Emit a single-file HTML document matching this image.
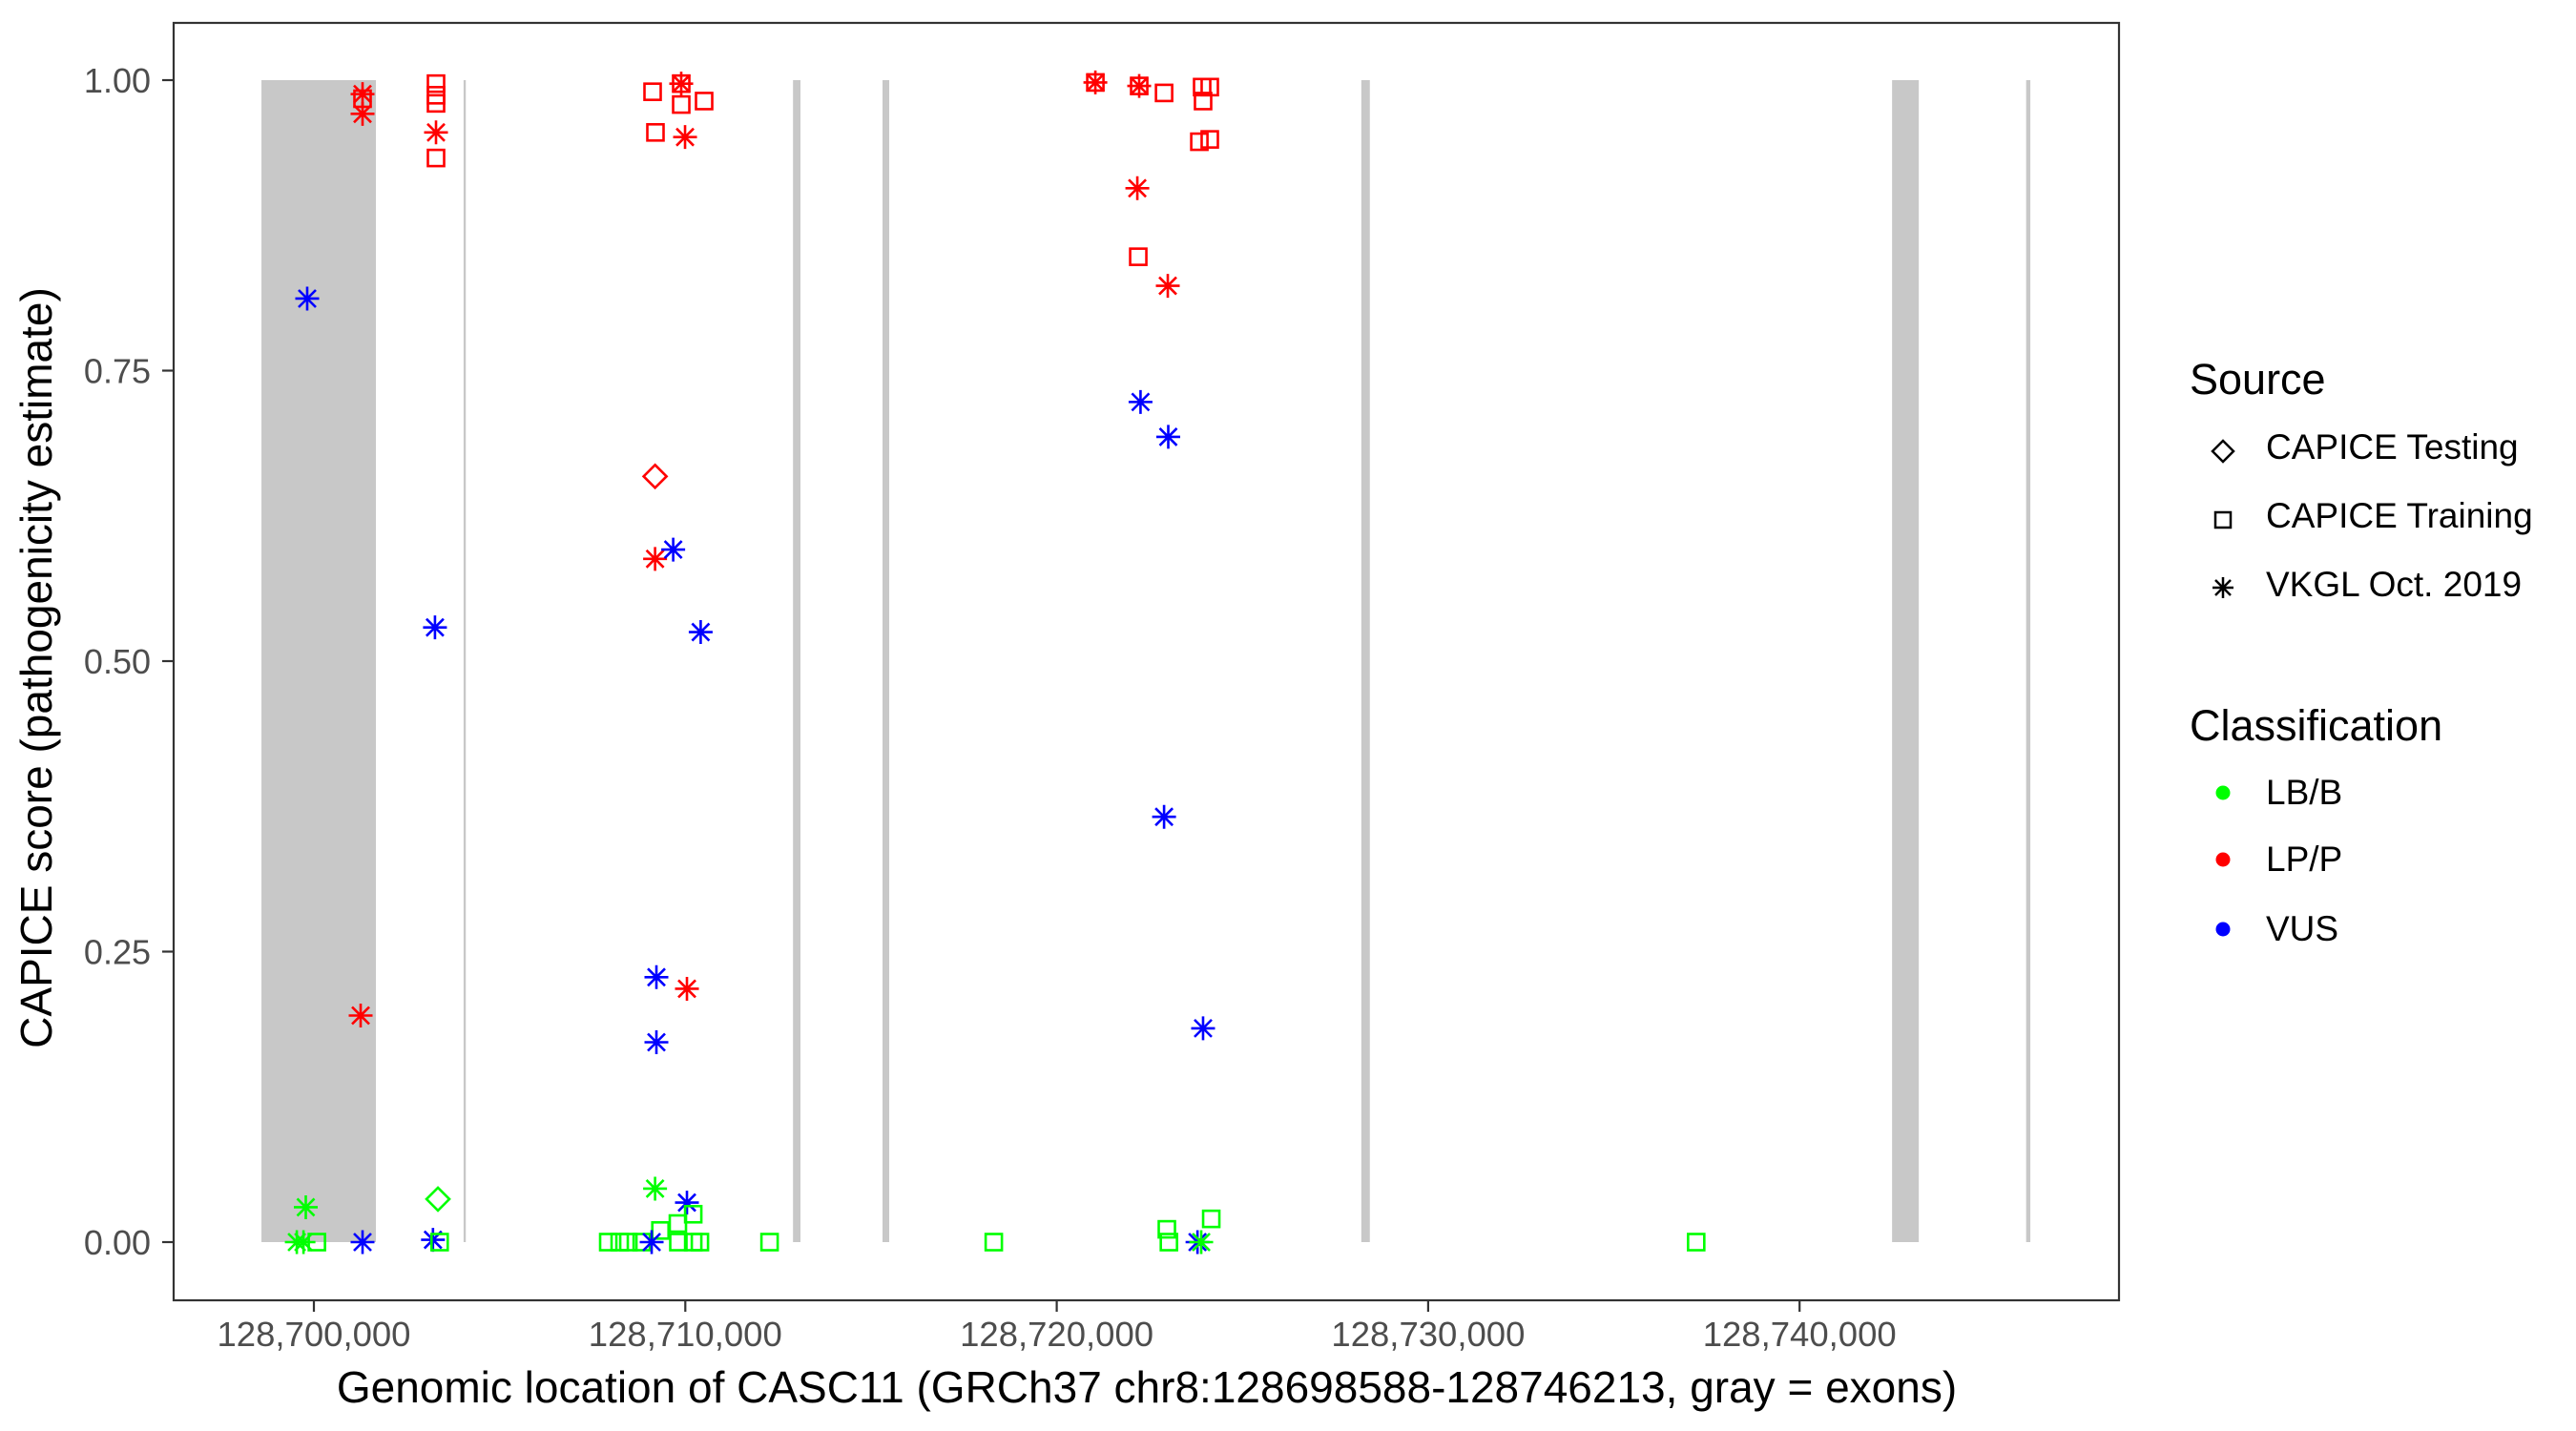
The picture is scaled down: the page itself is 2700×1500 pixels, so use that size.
<!DOCTYPE html>
<html><head><meta charset="utf-8"><style>
html,body{margin:0;padding:0;background:#fff;}
svg{display:block;font-family:"Liberation Sans",Arial,sans-serif;}
</style></head><body>
<svg id="chart" width="2700" height="1500" viewBox="0 0 2700 1500" xmlns="http://www.w3.org/2000/svg">
<rect x="0" y="0" width="2700" height="1500" fill="#fff"/>
<g id="exons"></g>
<g id="points"></g>
<rect x="182" y="24" width="2039" height="1339" fill="none" stroke="#333" stroke-width="2.2"/>
<g id="axes"></g>
<text x="1202" y="1470" font-size="46" text-anchor="middle" fill="#000">Genomic location of CASC11 (GRCh37 chr8:128698588-128746213, gray = exons)</text>
<text transform="translate(54,700) rotate(-90)" font-size="46" text-anchor="middle" fill="#000">CAPICE score (pathogenicity estimate)</text>
<g id="legend">
<text x="2295" y="413" font-size="45" fill="#000">Source</text>
<path d="M2330,462 L2341,473 L2330,484 L2319,473 Z" fill="none" stroke="#000" stroke-width="2.5"/>
<text x="2375" y="481" font-size="37" fill="#000">CAPICE Testing</text>
<rect x="2322" y="537" width="16" height="16" fill="none" stroke="#000" stroke-width="2.5"/>
<text x="2375" y="553" font-size="37" fill="#000">CAPICE Training</text>
<path d="M2319,616 L2341,616 M2330,605 L2330,627 M2322,608 L2338,624 M2322,624 L2338,608" stroke="#000" stroke-width="2.5"/>
<text x="2375" y="625" font-size="37" fill="#000">VKGL Oct. 2019</text>
<text x="2295" y="776" font-size="45" fill="#000">Classification</text>
<circle cx="2330" cy="831" r="7.5" fill="#00FF00"/>
<text x="2375" y="843" font-size="37" fill="#000">LB/B</text>
<circle cx="2330" cy="901" r="7.5" fill="#FF0000"/>
<text x="2375" y="913" font-size="37" fill="#000">LP/P</text>
<circle cx="2330" cy="974" r="7.5" fill="#0000FF"/>
<text x="2375" y="986" font-size="37" fill="#000">VUS</text>
</g>
</svg>
<script>
const xTicks = [128700000, 128710000, 128720000, 128730000, 128740000];
const xTickLabels = ["128,700,000", "128,710,000", "128,720,000", "128,730,000", "128,740,000"];
const yTicks = [0, 0.25, 0.5, 0.75, 1];
const yTickLabels = ["0.00", "0.25", "0.50", "0.75", "1.00"];
const exonStarts = [128698588, 128704030, 128712900, 128715310, 128728200, 128742490, 128746100];
const exonEnds = [128701670, 128704090, 128713100, 128715490, 128728430, 128743210, 128746213];
const positions = [
128701310,128701310,128701310,128703288,128703288,128703288,128703288,128703288,
128709119,128709890,128709890,128709890,128710506,128709196,128709993,
128721040,128721040,128722220,128722220,128722890,128723915,128724120,128723940,128723840,128724120,128722170,128722195,128722990,
128699820,128709186,128709186,128709674,128703260,128710414,128709222,128710044,128709222,128701259,
128699782,128703340,128709186,128710044,128709800,128710213,128709330,
128699540,128699720,128700080,128701310,128703206,128703385,128707925,128708233,128708466,128708826,128709094,128709813,128710213,128710393,128712268,128718305,
128722256,128723003,128722890,128723940,128722965,128723020,128724160,128723790,128723890,128737216
];
const scores = [
0.988,0.984,0.971,0.997,0.987,0.980,0.955,0.933,
0.990,0.997,0.997,0.979,0.982,0.955,0.951,
0.998,0.998,0.995,0.995,0.989,0.994,0.994,0.982,0.947,0.949,0.907,0.848,0.823,
0.812,0.659,0.588,0.596,0.529,0.525,0.228,0.218,0.172,0.195,
0.030,0.037,0.046,0.034,0.016,0.024,0.010,
0,0,0,0,0.002,0,0,0,0,0,0,0,0,0,0,0,
0.723,0.693,0.366,0.184,0.011,0,0.020,0,0,0
];
const sources = [
"V","T","V","T","T","T","V","T",
"T","T","V","T","T","T","V",
"T","V","T","V","T","T","T","T","T","T","V","T","V",
"V","D","V","V","V","V","V","V","V","V",
"V","D","V","V","T","T","T",
"V","V","T","V","V","T","T","T","T","T","V","T","T","T","T","T",
"V","V","V","V","T","T","T","V","V","T"
];
const classes = [
"LP","LP","LP","LP","LP","LP","LP","LP",
"LP","LP","LP","LP","LP","LP","LP",
"LP","LP","LP","LP","LP","LP","LP","LP","LP","LP","LP","LP","LP",
"VUS","LP","LP","VUS","VUS","VUS","VUS","LP","VUS","LP",
"LB","LB","LB","VUS","LB","LB","LB",
"LB","LB","LB","VUS","VUS","LB","LB","LB","LB","LB","VUS","LB","LB","LB","LB","LB",
"VUS","VUS","VUS","VUS","LB","LB","LB","VUS","LB","LB"
];
const colorOf = {LB:"#00FF00", LP:"#FF0000", VUS:"#0000FF"};
const NS="http://www.w3.org/2000/svg";
function xScale(v){ return 329 + (v - 128700000) * 0.03893; }
function yScale(v){ return 1302 - v * 1218; }
function mk(tag, attrs, parent){ const e=document.createElementNS(NS,tag); for(const k in attrs) e.setAttribute(k, attrs[k]); parent.appendChild(e); return e; }
const gEx=document.getElementById('exons');
for(let i=0;i<exonStarts.length;i++){
  const x0=xScale(exonStarts[i]), x1=xScale(exonEnds[i]);
  const r=mk('rect',{x:x0,y:yScale(1),width:Math.max(x1-x0,2),height:yScale(0)-yScale(1),fill:'#c8c8c8'},gEx);
  
  
}
const gAx=document.getElementById('axes');
for(let i=0;i<xTicks.length;i++){
  const x=xScale(xTicks[i]);
  const t=mk('line',{x1:x,x2:x,y1:1363,y2:1375,stroke:'#333','stroke-width':2.2},gAx);
  
  
  const l=mk('text',{x:x,y:1411,'font-size':36.5,'text-anchor':'middle',fill:'#4d4d4d'},gAx);
  l.textContent=xTickLabels[i];
  
  
}
for(let i=0;i<yTicks.length;i++){
  const y=yScale(yTicks[i]);
  const t=mk('line',{x1:170,x2:182,y1:y,y2:y,stroke:'#333','stroke-width':2.2},gAx);
  
  
  const l=mk('text',{x:158,y:y+13,'font-size':36,'text-anchor':'end',fill:'#4d4d4d'},gAx);
  l.textContent=yTickLabels[i];
  
  
}
const gP=document.getElementById('points');
for(let i=0;i<positions.length;i++){
  const cx=xScale(positions[i]), cy=yScale(scores[i]), c=colorOf[classes[i]], s=sources[i];
  let el;
  if(s==="T"){
    el=mk('rect',{x:cx-8.5,y:cy-8.5,width:17,height:17,fill:'none',stroke:c,'stroke-width':2.6},gP);
  } else if(s==="D"){
    el=mk('path',{d:`M${cx},${cy-12} L${cx+12},${cy} L${cx},${cy+12} L${cx-12},${cy} Z`,fill:'none',stroke:c,'stroke-width':2.6},gP);
  } else {
    const a=12.5, b=9;
    el=mk('path',{d:`M${cx-a},${cy} L${cx+a},${cy} M${cx},${cy-a} L${cx},${cy+a} M${cx-b},${cy-b} L${cx+b},${cy+b} M${cx-b},${cy+b} L${cx+b},${cy-b}`,stroke:c,'stroke-width':2.6,fill:'none'},gP);
  }
  
  
}
</script>
</body></html>
